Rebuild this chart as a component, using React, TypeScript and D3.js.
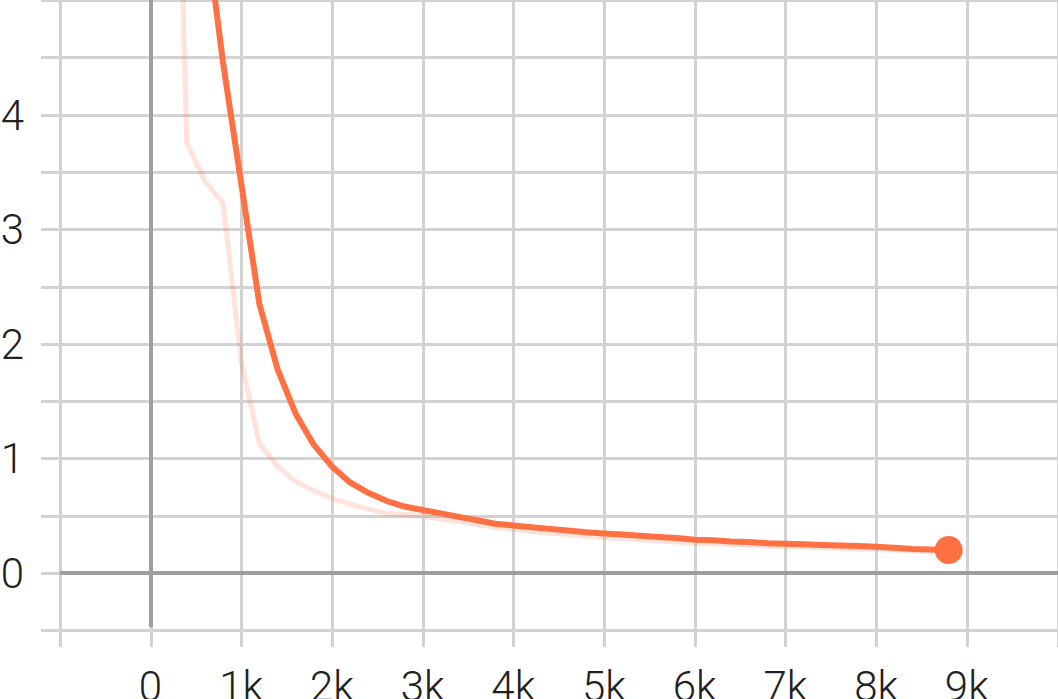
import React from "react";
import * as d3 from "d3";

// training steps
const steps = [
  200, 400, 600, 800, 1000, 1200, 1400, 1600, 1800, 2000, 2200, 2400, 2600,
  2800, 3000, 3200, 3400, 3600, 3800, 4000, 4200, 4400, 4600, 4800, 5000,
  5200, 5400, 5600, 5800, 6000, 6200, 6400, 6600, 6800, 7000, 7200, 7400,
  7600, 7800, 8000, 8200, 8400, 8600, 8800,
];

// raw loss (faint line)
const rawValues = [
  9.6, 3.75, 3.42, 3.23, 1.85, 1.13, 0.93, 0.8, 0.72, 0.65, 0.6, 0.56, 0.52,
  0.51, 0.5, 0.47, 0.45, 0.42, 0.4, 0.38, 0.365, 0.35, 0.335, 0.32, 0.31, 0.3,
  0.29, 0.28, 0.27, 0.26, 0.255, 0.25, 0.245, 0.235, 0.23, 0.225, 0.22, 0.215,
  0.21, 0.205, 0.2, 0.195, 0.19, 0.19,
];

// smoothed loss (bold line)
const smoothValues = [
  9.6, 7.5, 5.7, 4.45, 3.4, 2.35, 1.78, 1.39, 1.12, 0.93, 0.79, 0.7, 0.63,
  0.58, 0.55, 0.52, 0.49, 0.46, 0.43, 0.415, 0.4, 0.385, 0.37, 0.355, 0.345,
  0.335, 0.325, 0.315, 0.305, 0.29, 0.285, 0.275, 0.27, 0.26, 0.255, 0.25,
  0.245, 0.24, 0.235, 0.23, 0.22, 0.21, 0.205, 0.2,
];

const xTickValues = [0, 1000, 2000, 3000, 4000, 5000, 6000, 7000, 8000, 9000];
const xTickLabels = ["0", "1k", "2k", "3k", "4k", "5k", "6k", "7k", "8k", "9k"];
const yTickValues = [0, 1, 2, 3, 4];

const W = 1058;
const H = 699;
const COLOR = "#ff7043";

export default function App() {
  const x = d3.scaleLinear().domain([-1000, 10000]).range([59.8, 1057.5]);
  const y = d3.scaleLinear().domain([-0.5, 5]).range([630.3, 0]);

  const xGrid = d3.range(-1000, 10001, 1000);
  const yGrid = d3.range(-0.5, 5.01, 0.5);

  const line = d3
    .line<number>()
    .x((_, i) => x(steps[i]))
    .y((d) => y(d));

  const gridColor = "#d2d2d2";
  const last = steps.length - 1;

  return (
    <svg
      width={W}
      height={H}
      style={{ position: "absolute", left: 0, top: 0, background: "#fff" }}
      fontFamily="Roboto, sans-serif"
    >
      <g>
        {yGrid.map((v) => (
          <line
            key={"h" + v}
            x1={41}
            x2={W}
            y1={Math.round(y(v)) + 0.5}
            y2={Math.round(y(v)) + 0.5}
            stroke={gridColor}
            strokeWidth={3}
          />
        ))}
        {xGrid.map((v) => (
          <line
            key={"v" + v}
            x1={Math.round(x(v)) + 0.5}
            x2={Math.round(x(v)) + 0.5}
            y1={0}
            y2={647}
            stroke={gridColor}
            strokeWidth={3}
          />
        ))}
      </g>
      <line
        x1={x(-1000)}
        x2={W}
        y1={Math.round(y(0))}
        y2={Math.round(y(0))}
        stroke="#9e9e9e"
        strokeWidth={4}
      />
      <line
        x1={Math.round(x(0))}
        x2={Math.round(x(0))}
        y1={0}
        y2={y(-0.5) - 3}
        stroke="#9e9e9e"
        strokeWidth={4}
      />
      <path
        d={line(rawValues) || ""}
        fill="none"
        stroke={COLOR}
        strokeOpacity={0.2}
        strokeWidth={5}
        strokeLinejoin="round"
      />
      <path
        d={line(smoothValues) || ""}
        fill="none"
        stroke={COLOR}
        strokeWidth={6}
        strokeLinejoin="round"
      />
      <circle cx={x(steps[last])} cy={y(smoothValues[last])} r={14} fill={COLOR} />
      <g fill="#212121" fontSize={42} fontWeight={300}>
        {yTickValues.map((v) => (
          <text key={"yl" + v} x={24} y={y(v) + 15} textAnchor="end">
            {v}
          </text>
        ))}
        {xTickValues.map((v, i) => (
          <text key={"xl" + v} x={x(v)} y={701} textAnchor="middle">
            {xTickLabels[i]}
          </text>
        ))}
      </g>
    </svg>
  );
}
